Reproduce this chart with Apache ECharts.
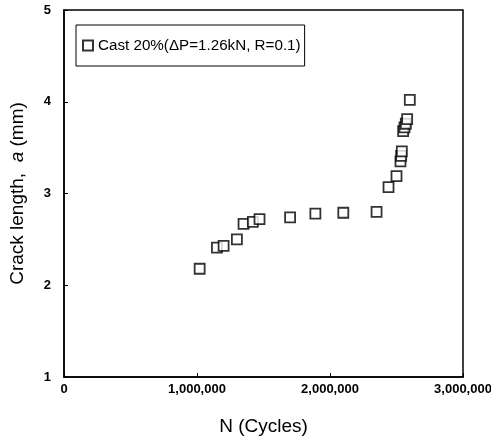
<!DOCTYPE html>
<html><head><meta charset="utf-8">
<script src="https://cdn.jsdelivr.net/npm/echarts@6/dist/echarts.min.js"></script>
<style>html,body{margin:0;padding:0;background:#fff}#c{width:491px;height:437px}</style>
</head><body><div id="c"></div>
<script>
const seriesName = 'Cast 20%(\u0394P=1.26kN, R=0.1)';
const cycles = [1020000,1150000,1200000,1300000,1350000,1420000,1470000,1700000,1890000,2100000,2350000,2440000,2500000,2530000,2535000,2540000,2550000,2560000,2570000,2580000,2600000];
const crackLength = [2.18,2.41,2.43,2.50,2.67,2.69,2.72,2.74,2.78,2.79,2.80,3.07,3.19,3.35,3.41,3.46,3.68,3.72,3.76,3.81,4.02];
const xTicks = [0,1000000,2000000,3000000];
const yTicks = [1,2,3,4,5];

const chart = echarts.init(document.getElementById('c'));
const font = 'Liberation Sans, Arial, sans-serif';
chart.setOption({
  animation:false,
  backgroundColor:'#fff',
  grid:{left:64,top:10,width:399,height:367,show:true,borderColor:'#000',borderWidth:1.5,backgroundColor:'transparent',
    containLabel:false, outerBoundsMode:'none'},
  legend:{
    left:76, top:25, orient:'horizontal',
    padding:[13,4,13,6],
    borderColor:'#000', borderWidth:1,
    itemWidth:10, itemHeight:10, itemGap:4,
    icon:'rect',
    textStyle:{fontFamily:font,fontSize:15.2,color:'#000'},
    data:[seriesName]
  },
  xAxis:{
    type:'value', min:xTicks[0], max:xTicks[xTicks.length-1], interval:1000000,
    axisLine:{show:true,lineStyle:{color:'#000',width:1.5}},
    axisTick:{show:true,inside:true,length:4,lineStyle:{color:'#000'}},
    splitLine:{show:false},
    axisLabel:{fontFamily:font,fontWeight:'bold',fontSize:13,color:'#000',margin:6,
      formatter:v=>v.toLocaleString('en-US')},
    name:'N (Cycles)', nameLocation:'middle', nameGap:40,
    nameTextStyle:{fontFamily:font,fontSize:19,color:'#000'}
  },
  yAxis:{
    type:'value', min:yTicks[0], max:yTicks[yTicks.length-1], interval:1,
    axisLine:{show:true,lineStyle:{color:'#000',width:1.5}},
    axisTick:{show:true,inside:true,length:4,lineStyle:{color:'#000'}},
    splitLine:{show:false},
    axisLabel:{fontFamily:font,fontWeight:'bold',fontSize:13,color:'#000',margin:13},
    name:'{n|Crack length,  }{i|a}{n| (mm)}', nameLocation:'middle', nameGap:37,
    nameTextStyle:{fontFamily:font,fontSize:19,color:'#000',
      rich:{n:{fontFamily:font,fontSize:19,color:'#000'},i:{fontFamily:font,fontSize:19,fontStyle:'italic',color:'#000'}}}
  },
  series:[{
    name:seriesName, type:'scatter', symbol:'rect', symbolSize:10,
    itemStyle:{color:'#fff',borderColor:'#000',borderWidth:1.8},
    data:cycles.map((c,i)=>[c,crackLength[i]])
  }]
});
</script></body></html>
